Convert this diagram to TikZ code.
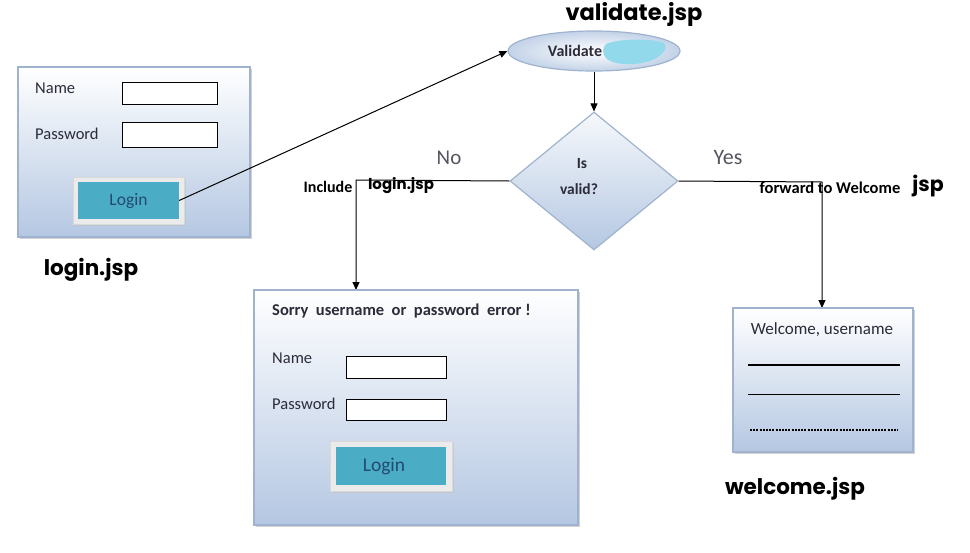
\documentclass[tikz,border=0pt]{standalone}
\usepackage{fontspec}
\setmainfont{Carlito}
\newfontfamily\titlefont{Poppins}
\usetikzlibrary{shapes.geometric,arrows.meta,shadows}
\definecolor{boxtop}{HTML}{FFFFFF}
\definecolor{boxbot}{HTML}{B4C7E2}
\definecolor{boxline}{HTML}{9FB3CF}
\definecolor{btnfill}{HTML}{4BACC6}
\definecolor{btntext}{HTML}{244A70}
\definecolor{txt}{HTML}{2B2B3A}
\definecolor{blob}{HTML}{92D9EC}
\tikzset{
  pane/.style={draw=boxline, line width=1.2pt, top color=boxtop, bottom color=boxbot,
    drop shadow={shadow xshift=2pt, shadow yshift=-2pt, fill=black!35}},
  field/.style={draw=black, line width=0.9pt, fill=white},
  btnframe/.style={fill=white!92!black, draw=white!85!black, line width=0.6pt,
    drop shadow={shadow xshift=1.5pt, shadow yshift=-1.5pt, fill=black!25}},
  btn/.style={fill=btnfill, text=btntext, font=\fontsize{17.5}{20}\selectfont},
  lbl/.style={text=txt, font=\fontsize{16.5}{19}\selectfont, inner sep=0pt},
  title/.style={font=\titlefont\bfseries\fontsize{21.5}{24}\selectfont, inner sep=0pt},
  small/.style={font=\bfseries\fontsize{16}{18}\selectfont, inner sep=0pt},
  conn/.style={line width=1pt, -{Triangle[length=8pt,width=7pt]}},
}
\begin{document}
\begin{tikzpicture}[x=1pt,y=-1pt]
\useasboundingbox (0,0) rectangle (970,552);

% ---------- login.jsp pane ----------
\node[pane, minimum width=232pt, minimum height=170pt] (login) at (134,152) {};
\node[lbl, anchor=west] (lname) at (35,88) {Name};
\node[field, minimum width=95pt, minimum height=22pt] (lnamef) at (169.5,93) {};
\node[lbl, anchor=west] (lpass) at (35,134) {Password};
\node[field, minimum width=95pt, minimum height=25pt] (lpassf) at (169.5,134.5) {};
\node[btnframe, minimum width=111pt, minimum height=47pt] (lbtnf) at (128.5,200.5) {};
\node[btn, minimum width=101pt, minimum height=37pt] (lbtn) at (128.5,200.5) {Login};
\node[title] (ltitle) at (91,270) {login.jsp};

% ---------- validate ellipse ----------
\node[ellipse, draw=boxline, line width=1.2pt, inner color=white, outer color=boxbot!80,
      minimum width=172pt, minimum height=40pt] (val) at (594,51) {};
\node[font=\bfseries\fontsize{16}{18}\selectfont, text=txt, inner sep=0pt] (valtxt) at (575,51) {Validate};
\fill[blob] (606,44) .. controls (618,39) and (645,38) .. (662,42)
  .. controls (670,46) and (664,56) .. (650,61)
  .. controls (634,66) and (614,65) .. (607,59)
  .. controls (602,55) and (602,48) .. (606,44) -- cycle;
\node[title, font=\titlefont\bfseries\fontsize{22.5}{25}\selectfont] (vtitle) at (634,14) {validate.jsp};

% ---------- decision diamond ----------
\node[diamond, draw=boxline, line width=1.2pt, top color=white!88!boxbot, bottom color=boxbot,
      minimum width=168pt, minimum height=138pt, inner sep=0pt] (dia) at (594,181) {};
\node[small, text=txt, font=\bfseries\fontsize{15.5}{18}\selectfont] (is) at (582,164) {Is};
\node[small, text=txt, font=\bfseries\fontsize{15.5}{18}\selectfont] (valid) at (579,189) {valid?};

% ---------- connectors ----------
\draw[conn] (lbtn.east) -- (val.west);
\draw[conn] (val.south) -- (dia.north);
\coordinate (nturn) at (356,180);
\draw[conn] (dia.west) -- (nturn) -- (nturn |- 0,290);
\coordinate (yturn) at (822,182);
\draw[conn] (dia.east) -- (yturn) -- (yturn |- 0,308);

\node[font=\fontsize{21}{24}\selectfont, text=txt!80, inner sep=0pt] (no) at (449,158) {No};
\node[small, text=black] (incl) at (328,187) {Include};
\node[font=\titlefont\bfseries\fontsize{15}{17}\selectfont, inner sep=0pt] (incljsp) at (401,186) {login.jsp};
\node[font=\fontsize{22}{25}\selectfont, text=txt!80, inner sep=0pt] (yes) at (728,158) {Yes};
\node[small, text=black, font=\bfseries\fontsize{16.5}{19}\selectfont] (fwd) at (830,188) {forward to Welcome};
\node[font=\titlefont\bfseries\fontsize{20.5}{23}\selectfont, inner sep=0pt] (fwdjsp) at (928,186) {jsp};

% ---------- error pane ----------
\node[pane, minimum width=324pt, minimum height=235pt] (sorry) at (416,407.5) {};
\node[lbl, anchor=west, font=\bfseries\fontsize{16.5}{19}\selectfont] (stxt) at (272,311) {Sorry\ \ username\ \ or\ \ password\ \ error\ !};
\node[lbl, anchor=west] (sname) at (272,358) {Name};
\node[field, minimum width=100pt, minimum height=22pt] (snamef) at (396,367) {};
\node[lbl, anchor=west] (spass) at (272,404) {Password};
\node[field, minimum width=100pt, minimum height=21pt] (spassf) at (396,409.5) {};
\node[btnframe, minimum width=122pt, minimum height=50pt] (sbtnf) at (391,466) {};
\node[btn, minimum width=110pt, minimum height=38pt] (sbtn) at (391,466) {};
\node[text=btntext, font=\fontsize{19.5}{22}\selectfont, inner sep=0pt] (sbtntxt) at (384,466) {Login};

% ---------- welcome pane ----------
\node[pane, minimum width=180pt, minimum height=144pt] (welc) at (823,380) {};
\node[lbl, font=\fontsize{17}{19}\selectfont] (wtxt) at (822,330) {Welcome, username};
\coordinate (w1a) at (748,365); \coordinate (w1b) at (900,365);
\draw[line width=1.3pt] (w1a) -- (w1b);
\coordinate (w2a) at (748,394); \coordinate (w2b) at (900,394);
\draw[line width=0.8pt] (w2a) -- (w2b);
\coordinate (w3a) at (750,430); \coordinate (w3b) at (898,430);
\draw[line width=1.1pt, dash pattern=on 2pt off 1.2pt] (w3a) -- (w3b);
\node[title] (wtitle) at (795,489) {welcome.jsp};
\end{tikzpicture}
\end{document}
